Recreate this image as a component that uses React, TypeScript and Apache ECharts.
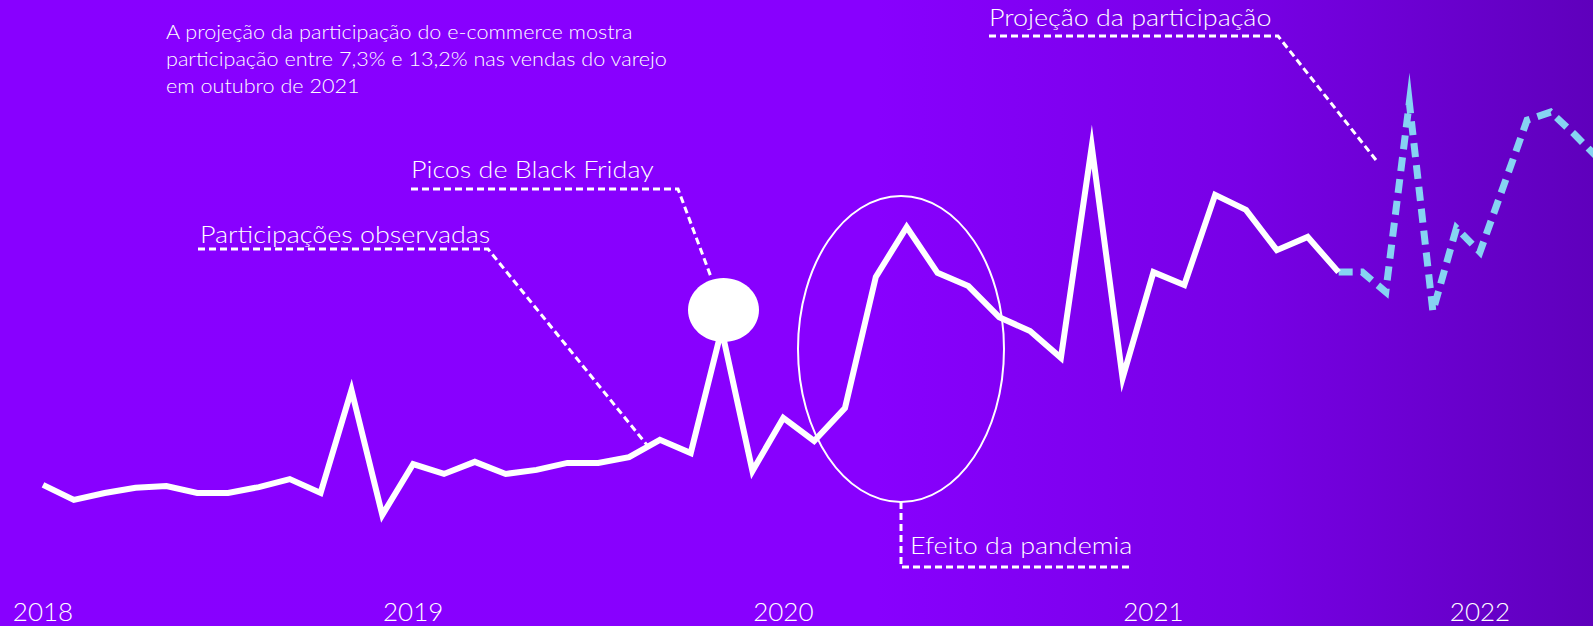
import React, { useEffect, useRef } from "react";
import * as echarts from "echarts";

// ---- data ----
const yearLabels = ["2018", "2019", "2020", "2021", "2022"];
// month index (0 = Jan 2018) of each year label
const yearTicks = [0, 12, 24, 36, 48];

// observed e-commerce share (%), monthly from Jan 2018 to Jul 2021
const observedShare = [
  2.76, 2.35, 2.54, 2.68, 2.73, 2.54, 2.54, 2.7, 2.92, 2.54, 5.35, 1.94,
  3.33, 3.06, 3.39, 3.06, 3.17, 3.36, 3.36, 3.52, 3.99, 3.63, 7.0, 3.14,
  4.59, 3.96, 4.86, 8.44, 9.8, 8.55, 8.19, 7.34, 6.96, 6.23, 12.0, 5.68,
  8.57, 8.22, 10.68, 10.27, 9.17, 9.53, 8.57,
];

// projected share (%), monthly from Jul 2021
const projectionStartMonth = 42;
const projectedShare = [
  8.57, 8.57, 8.03, 13.2, 7.5, 9.77, 9.12, 10.92, 12.72, 12.94, 12.34, 11.69,
];

const introText = [
  "A projeção da participação do e-commerce mostra",
  "participação entre 7,3% e 13,2% nas vendas do varejo",
  "em outubro de 2021",
];

const FONT = "Lato, 'Open Sans', sans-serif";

export default function App() {
  const ref = useRef<HTMLDivElement>(null);

  useEffect(() => {
    if (!ref.current) return;
    const chart = echarts.init(ref.current, null, { renderer: "svg" });

    const observedData = observedShare.map((v, i) => [i, v]);
    const projectedData = projectedShare.map((v, i) => [projectionStartMonth + i, v]);

    const dash = [7, 4];
    const annoLine = (points: number[][]) => ({
      type: "polyline",
      silent: true,
      shape: { points },
      style: { stroke: "#ffffff", lineWidth: 3, lineDash: dash, fill: null },
      z: 10,
    });
    const label = (text: string, x: number, y: number) => ({
      type: "text",
      x,
      y,
      scaleX: 1.17,
      silent: true,
      style: {
        text,
        fill: "#ffffff",
        fontFamily: FONT,
        fontWeight: 300,
        fontSize: 23,
        align: "left",
        verticalAlign: "middle",
      },
      z: 10,
    });
    const yearLabelStyle = {
      formatter: (v: number) => yearLabels[Math.round(v / 12)],
      color: "#ffffff",
      fontFamily: FONT,
      fontWeight: 300,
      fontSize: 26,
      lineHeight: 20,
      margin: 15,
    };

    const option: any = {
      animation: false,
      backgroundColor: "transparent",
      grid: {
        left: 43,
        right: 0,
        top: 0,
        bottom: 40,
        containLabel: false,
        outerBoundsMode: "none",
      },
      xAxis: [
        {
          type: "value",
          min: 0,
          max: 50.25,
          position: "bottom",
          axisLine: { show: false },
          axisTick: { show: false },
          splitLine: { show: false },
          axisLabel: { ...yearLabelStyle, customValues: yearTicks.slice(0, 4) },
        },
        {
          type: "value",
          min: -13.02,
          max: 52.8,
          position: "bottom",
          axisLine: { show: false },
          axisTick: { show: false },
          splitLine: { show: false },
          axisLabel: { ...yearLabelStyle, customValues: yearTicks.slice(4) },
        },
      ],
      yAxis: {
        type: "value",
        min: 0,
        max: 16,
        show: false,
        splitLine: { show: false },
      },
      series: [
        {
          type: "line",
          xAxisIndex: 0,
          data: observedData,
          symbol: "none",
          lineStyle: { color: "#ffffff", width: 6, miterLimit: 20, join: "miter" },
          z: 5,
        },
        {
          type: "line",
          xAxisIndex: 1,
          data: projectedData,
          symbol: "none",
          lineStyle: {
            color: "#86d3f2",
            width: 7,
            type: [14, 8],
            miterLimit: 20,
            join: "miter",
          },
          z: 4,
        },
      ],
      graphic: [
        {
          type: "text",
          x: 166,
          y: 17,
          scaleX: 1.08,
          silent: true,
          style: {
            text: introText.join("\n"),
            fill: "#ffffff",
            fontFamily: FONT,
            fontWeight: 300,
            fontSize: 20,
            lineHeight: 27,
            align: "left",
            verticalAlign: "top",
          },
          z: 10,
        },
        label("Participações observadas", 200, 234),
        annoLine([[198, 249], [488, 249], [647, 445]]),
        label("Picos de Black Friday", 411, 169),
        annoLine([[411, 189], [678, 189], [711, 277]]),
        label("Projeção da participação", 989, 17),
        annoLine([[989, 36], [1278, 36], [1376, 160]]),
        label("Efeito da pandemia", 910, 545),
        annoLine([[901, 502], [901, 567], [1133, 567]]),
        {
          type: "ellipse",
          silent: true,
          shape: { cx: 901, cy: 349, rx: 103, ry: 153 },
          style: { stroke: "#ffffff", lineWidth: 2, fill: null },
          z: 10,
        },
        {
          type: "ellipse",
          silent: true,
          shape: { cx: 723.5, cy: 310, rx: 35.5, ry: 32 },
          style: { fill: "#ffffff" },
          z: 10,
        },
      ],
    };

    chart.setOption(option);
    return () => chart.dispose();
  }, []);

  return (
    <div
      ref={ref}
      style={{
        position: "fixed",
        left: 0,
        top: 0,
        width: 1593,
        height: 626,
        background:
          "linear-gradient(90deg, #8800ff 0%, #8800fe 55%, #7800e6 78%, #5f00bc 100%)",
      }}
    />
  );
}
